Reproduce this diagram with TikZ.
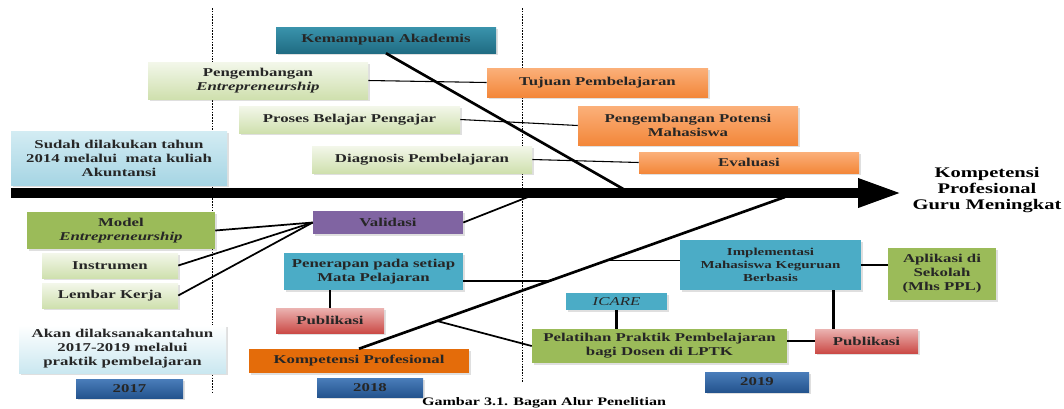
\documentclass[tikz,border=0pt]{standalone}
\usepackage{fontspec}
\setmainfont[FakeStretch=1.4]{Liberation Serif}
\usetikzlibrary{arrows.meta,shadows}
\definecolor{teal1}{HTML}{3A93AC}
\definecolor{teal2}{HTML}{206C83}
\definecolor{lgreen1}{HTML}{F3F7EA}
\definecolor{lgreen2}{HTML}{CFE0AE}
\definecolor{orange1}{HTML}{FBB07A}
\definecolor{orange2}{HTML}{F3873A}
\definecolor{lblue1}{HTML}{D3ECF3}
\definecolor{lblue2}{HTML}{A6D5E4}
\definecolor{green1}{HTML}{9BBB59}
\definecolor{purple1}{HTML}{8064A2}
\definecolor{blue1}{HTML}{4BACC6}
\definecolor{red1}{HTML}{EBB3B1}
\definecolor{red2}{HTML}{CB4B47}
\definecolor{dorange}{HTML}{E46C0A}
\definecolor{year1}{HTML}{4A7DBA}
\definecolor{year2}{HTML}{24548E}
\begin{document}
\begin{tikzpicture}[x=0.75pt, y=-0.75pt,
            box/.style={inner sep=1pt, align=center, text=black!85,
                font=\fontsize{9}{10.5}\selectfont\bfseries,
                drop shadow={shadow xshift=1.5pt, shadow yshift=-1.5pt, opacity=0.25}},
            sz/.style 2 args={minimum width=#1*0.75pt, minimum height=#2*0.75pt},
            softgreen/.style={top color=lgreen1, bottom color=lgreen2},
            softorange/.style={top color=orange1, bottom color=orange2},
            softblue/.style={top color=lblue1, bottom color=lblue2},
            softred/.style={top color=red1, bottom color=red2},
            yearbox/.style={top color=year1, bottom color=year2},
            thinlink/.style={line width=0.8pt},
            link/.style={line width=1.3pt},
            bone/.style={line width=2pt},
            period/.style={line width=0.7pt, dash pattern=on 1.2pt off 0.9pt}]
            \useasboundingbox (0,0) rectangle (1064,408);

            \draw[period] (212,8) -- (212,392);
            \draw[period] (522,8) -- (522,382);

            \coordinate (tail) at (11,193);
            \coordinate (tip) at (902,193);
            \draw[line width=7.5pt, -{Triangle[length=33pt, width=20pt]}] (tail) -- (tip);
            \node[align=center, font=\fontsize{11}{12}\selectfont\bfseries] (goal) at (987,190) {Kompetensi\\Profesional\\Guru Meningkat};

            \node[box, sz={220}{26}, top color=teal1, bottom color=teal2] (kemampuan) at (386,40) {Kemampuan Akademis};
            \node[box, sz={220}{37}, softgreen] (pengembangan) at (258,80.5) {Pengembangan\\\textit{Entrepreneurship}};
            \node[box, sz={221}{27}, softgreen] (proses) at (349.5,119.5) {Proses Belajar Pengajar};
            \node[box, sz={220}{27}, softgreen] (diagnosis) at (422,159.5) {Diagnosis Pembelajaran};
            \node[box, sz={216}{54}, softblue] (sudah) at (119,158) {Sudah dilakukan tahun\\2014 melalui\ \ mata kuliah\\Akuntansi};
            \node[box, sz={221}{29}, softorange] (tujuan) at (597.5,82.5) {Tujuan Pembelajaran};
            \node[box, sz={220}{39}, softorange] (potensi) at (688,125.5) {Pengembangan Potensi\\Mahasiswa};
            \node[box, sz={220}{21}, softorange] (evaluasi) at (749,162.5) {Evaluasi};

            \node[box, sz={188}{37}, fill=green1] (model) at (121,230.5) {Model\\\textit{Entrepreneurship}};
            \node[box, sz={136}{25}, softgreen] (instrumen) at (110,265.5) {Instrumen};
            \node[box, sz={136}{25}, softgreen] (lembar) at (110,295.5) {Lembar Kerja};
            \node[box, sz={207}{48}, top color=white, bottom color=lblue1!80!lblue2] (akan) at (122.5,349) {Akan dilaksanakantahun\\2017-2019 melalui\\praktik pembelajaran};
            \node[box, sz={107}{19}, yearbox] (tahunA) at (129.5,388.5) {2017};

            \node[box, sz={150}{23}, fill=purple1] (validasi) at (388,222.5) {Validasi};
            \node[box, sz={179}{37}, fill=blue1] (penerapan) at (373.5,271.5) {Penerapan pada setiap\\Mata Pelajaran};
            \node[box, sz={108}{25}, softred] (publikasiA) at (330,320.5) {Publikasi};
            \node[box, sz={220}{24}, fill=dorange] (kompetensi) at (359,361) {Kompetensi Profesional};
            \node[box, sz={106}{19}, yearbox] (tahunB) at (370,387.5) {2018};

            \node[box, sz={181}{50}, fill=blue1, font=\fontsize{8}{10}\selectfont\bfseries] (implementasi) at (770.5,265) {Implementasi\\Mahasiswa Keguruan\\Berbasis};
            \node[box, sz={108}{52}, fill=green1] (aplikasi) at (942,274) {Aplikasi di\\Sekolah\\(Mhs PPL)};
            \node[box, sz={101}{17}, fill=blue1, font=\fontsize{9}{10.5}\selectfont\itshape] (icare) at (616.5,301.5) {ICARE};
            \node[box, sz={255}{34}, fill=green1] (pelatihan) at (659.5,346) {Pelatihan Praktik Pembelajaran\\bagi Dosen di LPTK};
            \node[box, sz={103}{24}, softred] (publikasiB) at (866.5,341) {Publikasi};
            \node[box, sz={104}{20}, yearbox] (tahunC) at (757,382) {2019};

            \node[font=\fontsize{8.6}{9}\selectfont\bfseries] (caption) at (544,403) {Gambar 3.1. Bagan Alur Penelitian};

            \coordinate (u) at (625,190);
            \coordinate (l) at (785,197);
            \coordinate (v) at (533,195);
            \draw[bone] (kemampuan.south) -- (u);
            \draw[bone] (kompetensi.north) -- coordinate[pos=0.448] (d1) coordinate[pos=0.582] (d2) coordinate[pos=0.183] (d3) (l);

            \draw[thinlink] (pengembangan.east) -- (tujuan.west);
            \draw[thinlink] (proses.east) -- (potensi.west);
            \draw[thinlink] (diagnosis.east) -- (evaluasi.west);

            \draw[link] (model.east) -- (validasi.west);
            \draw[link] (instrumen.east) -- (validasi.west);
            \draw[link] (lembar.east) -- (validasi.west);
            \draw[link] (validasi.east) -- (v);
            \draw[link] (d1 -| penerapan.east) -- (d1);
            \draw[link] (d2) -- (d2 -| implementasi.west);
            \draw[link] (d3) -- (pelatihan.west);
            \draw[bone] (publikasiA.north) -- (publikasiA.north |- penerapan.south);
            \draw[bone] (icare.south) -- (icare.south |- pelatihan.north);
            \draw[link] (pelatihan.east |- publikasiB.west) -- (publikasiB.west);
            \draw[bone] ([xshift=47pt]implementasi.south) -- ([xshift=47pt]implementasi.south |- publikasiB.north);
            \draw[link] (implementasi.east) -- (implementasi.east -| aplikasi.west);
        \end{tikzpicture}
\end{document}
